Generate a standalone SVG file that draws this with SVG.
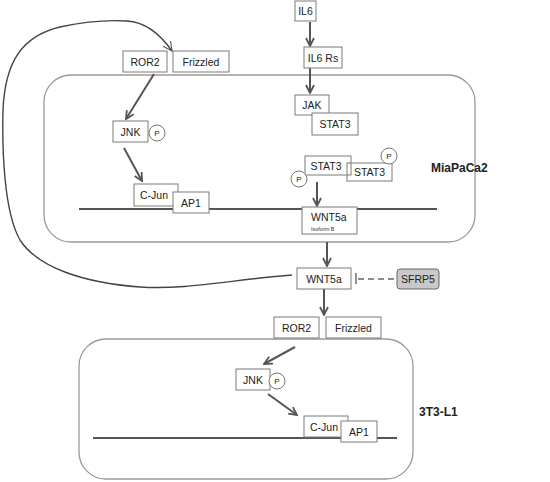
<svg xmlns="http://www.w3.org/2000/svg" width="550" height="482" viewBox="0 0 550 482">
<style>
.cell{fill:none;stroke:#9a9a9a;stroke-width:1.3}
.box{fill:#fff;stroke:#7a7a7a;stroke-width:1}
.dna{stroke:#555;stroke-width:2}
.t{font-family:"Liberation Sans",Arial,sans-serif;font-size:10.5px;fill:#222;text-anchor:middle}
.s{font-family:"Liberation Sans",Arial,sans-serif;font-size:5.5px;fill:#333}
.lbl{font-family:"Liberation Sans",Arial,sans-serif;font-size:12px;font-weight:bold;fill:#222}
.p{fill:#fff;stroke:#777;stroke-width:1}
.pt{font-family:"Liberation Sans",Arial,sans-serif;font-size:8px;fill:#222;text-anchor:middle}
.arr{fill:none;stroke:#555;stroke-width:2;marker-end:url(#ah)}
</style>
<defs>
<marker id="ah" viewBox="0 0 10 10" refX="9" refY="5" markerWidth="5" markerHeight="5" orient="auto" markerUnits="strokeWidth">
<path d="M1,1 L9,5 L1,9" fill="none" stroke="#555" stroke-width="1.8"/>
</marker>
<marker id="ah2" viewBox="0 0 10 10" refX="9" refY="5" markerWidth="8" markerHeight="8" orient="auto" markerUnits="strokeWidth">
<path d="M1,1 L9,5 L1,9" fill="none" stroke="#555" stroke-width="1"/>
</marker>
</defs>

<g id="cell-miapaca2">
<rect class="cell" x="44" y="75" width="431" height="167" rx="27"/>
<line class="dna" x1="79" y1="209" x2="437" y2="209"/>
<text class="lbl" x="431" y="172">MiaPaCa2</text>
</g>
<g id="cell-3t3l1">
<rect class="cell" x="79" y="339" width="334" height="140" rx="27"/>
<line class="dna" x1="93" y1="438" x2="397" y2="438"/>
<text class="lbl" x="419" y="416">3T3-L1</text>
</g>

<g id="connectors">
<path d="M292,275 C230,280 185,290 140,287 C85,283 38,268 20,240 C4,212 2,150 3,110 C5,62 22,36 60,27 C88,21 112,20 127,21 C145,22 160,34 172,51" fill="none" stroke="#444" stroke-width="1.4" marker-end="url(#ah2)"/>
<line class="arr" x1="154" y1="74" x2="126" y2="119"/>
<line class="arr" x1="124" y1="148" x2="142" y2="181"/>
<line class="arr" x1="310" y1="22" x2="310" y2="46"/>
<line class="arr" x1="310" y1="68" x2="310" y2="93"/>
<line class="arr" x1="317" y1="182" x2="317" y2="206"/>
<line class="arr" x1="327" y1="242" x2="327" y2="266"/>
<line class="arr" x1="324" y1="289" x2="324" y2="315"/>
<line class="arr" x1="295" y1="347" x2="264" y2="364"/>
<line class="arr" x1="268" y1="394" x2="297" y2="415"/>
<line x1="356" y1="273" x2="356" y2="284" stroke="#666" stroke-width="1.4"/>
<line x1="358" y1="279" x2="396" y2="279" stroke="#666" stroke-width="1.4" stroke-dasharray="6,4"/>
</g>

<g id="ror2-top"><rect class="box" x="123" y="51" width="44" height="21"/><text class="t" x="145" y="65.5">ROR2</text></g>
<g id="frizzled-top"><rect class="box" x="173" y="51" width="56" height="21"/><text class="t" x="201" y="65.5">Frizzled</text></g>
<g id="jnk-top"><rect class="box" x="113" y="121" width="35" height="21"/><text class="t" x="130.5" y="135.5">JNK</text><circle class="p" cx="157" cy="133" r="8"/><text class="pt" x="157" y="136">P</text></g>
<g id="cjun-top"><rect class="box" x="134" y="184" width="44" height="22"/><text class="t" x="154" y="199">C-Jun</text></g>
<g id="ap1-top"><rect class="box" x="173" y="192" width="36" height="21"/><text class="t" x="191" y="206.5">AP1</text></g>

<g id="il6"><rect class="box" x="295" y="1" width="21" height="20"/><text class="t" x="305.5" y="15">IL6</text></g>
<g id="il6rs"><rect class="box" x="304" y="47" width="38" height="21"/><text class="t" x="323" y="61.5">IL6 Rs</text></g>
<g id="jak"><rect class="box" x="295" y="95" width="34" height="20"/><text class="t" x="312" y="109">JAK</text></g>
<g id="stat3-jak"><rect class="box" x="312" y="113" width="46" height="22"/><text class="t" x="335" y="128">STAT3</text></g>
<g id="stat3-right"><rect class="box" x="347" y="163" width="45" height="18"/><text class="t" x="369.5" y="176">STAT3</text><circle class="p" cx="389" cy="156" r="8"/><text class="pt" x="389" y="159">P</text></g>
<g id="stat3-left"><rect class="box" x="305" y="156" width="46" height="19" style="fill:none"/><text class="t" x="326" y="169.5">STAT3</text><circle class="p" cx="299" cy="179" r="8"/><text class="pt" x="299" y="182">P</text></g>
<g id="wnt5a-gene"><rect class="box" x="302" y="207" width="55" height="27"/><text class="t" x="311" y="221" style="text-anchor:start">WNT5a</text><text class="s" x="311" y="231">Isoform B</text></g>

<g id="wnt5a"><rect class="box" x="297" y="268" width="54" height="21"/><text class="t" x="324" y="282.5">WNT5a</text></g>
<g id="sfrp5"><rect x="397" y="269" width="42" height="20" rx="3" fill="#c9c9c9" stroke="#666" stroke-width="1"/><text class="t" x="418" y="283">SFRP5</text></g>

<g id="ror2-bottom"><rect class="box" x="274" y="317" width="45" height="21"/><text class="t" x="296.5" y="331.5">ROR2</text></g>
<g id="frizzled-bottom"><rect class="box" x="326" y="317" width="55" height="21"/><text class="t" x="353.5" y="331.5">Frizzled</text></g>
<g id="jnk-bottom"><rect class="box" x="236" y="369" width="34" height="21"/><text class="t" x="253" y="383.5">JNK</text><circle class="p" cx="277" cy="381" r="8"/><text class="pt" x="277" y="384">P</text></g>
<g id="cjun-bottom"><rect class="box" x="304" y="416" width="44" height="21"/><text class="t" x="324" y="430.5">C-Jun</text></g>
<g id="ap1-bottom"><rect class="box" x="341" y="421" width="36" height="21"/><text class="t" x="359" y="435.5">AP1</text></g>
</svg>
